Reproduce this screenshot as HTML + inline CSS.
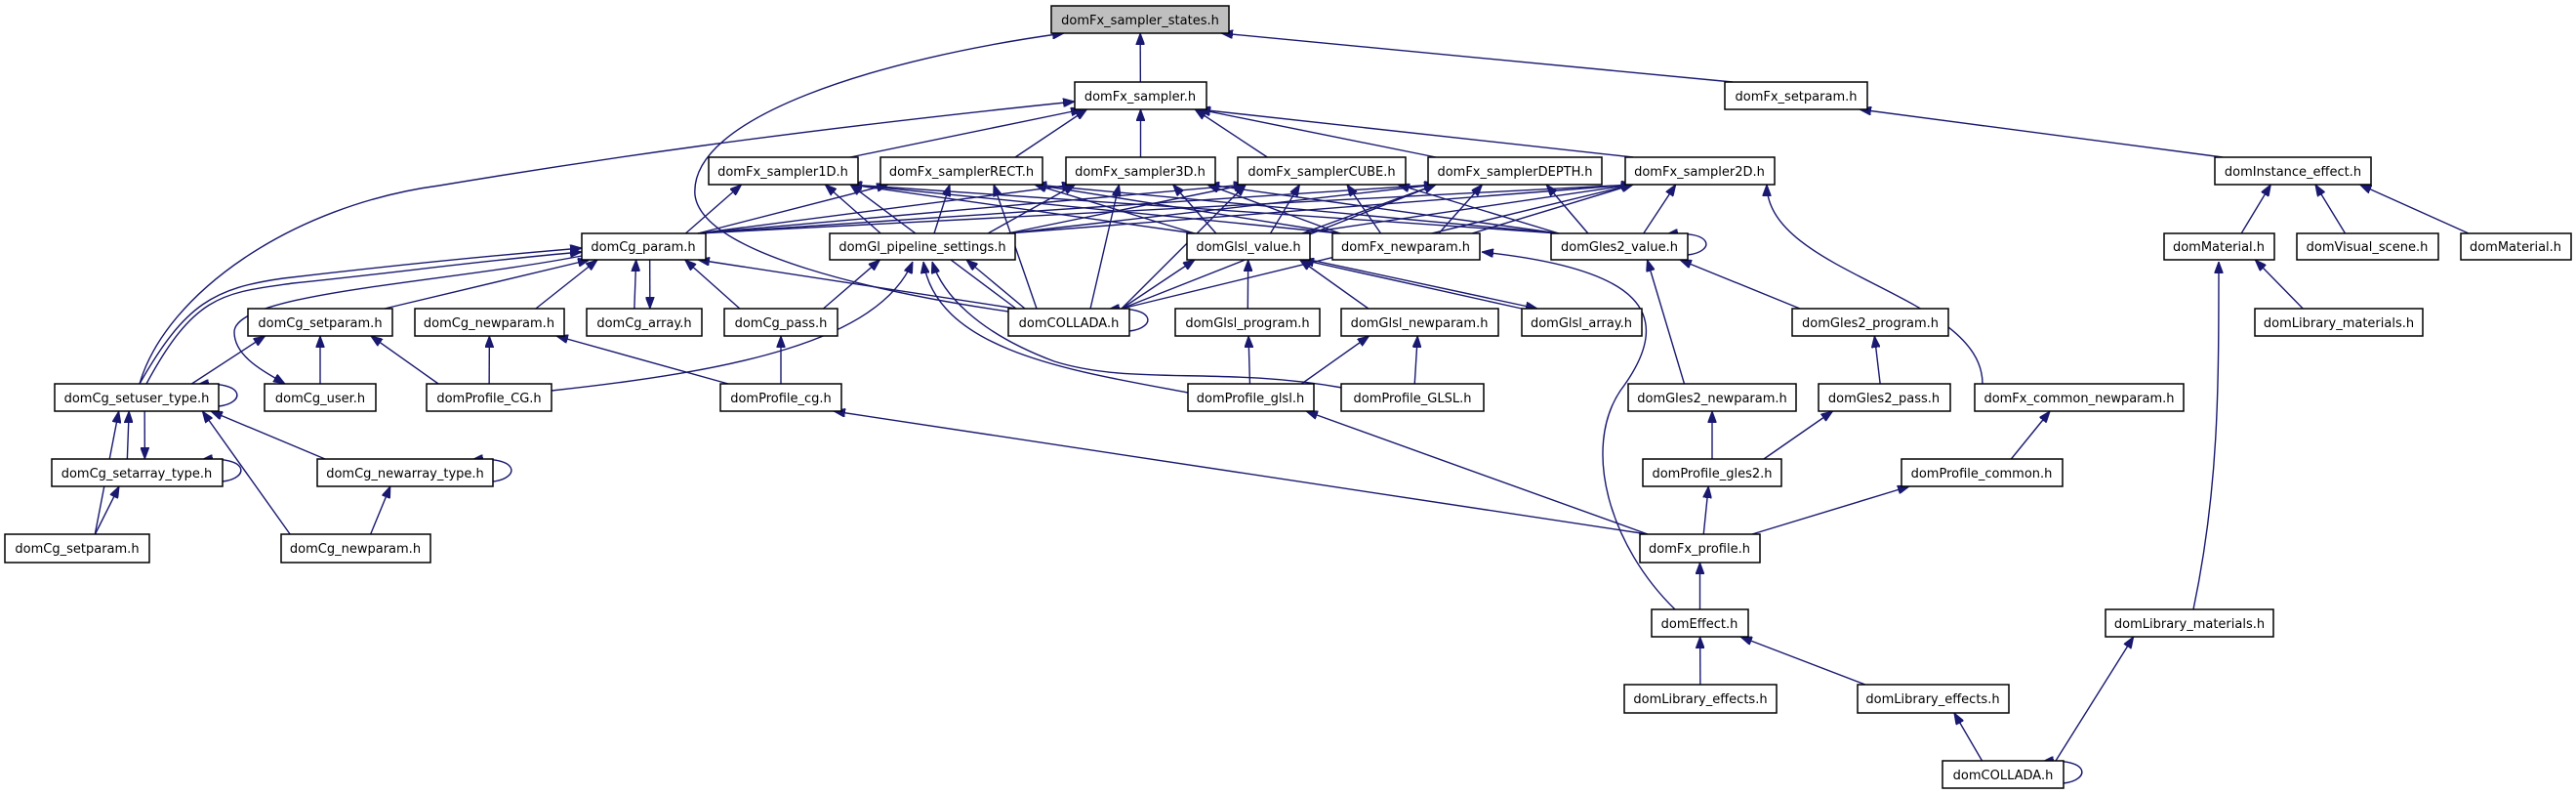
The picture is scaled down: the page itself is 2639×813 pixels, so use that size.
<!DOCTYPE html>
<html><head><meta charset="utf-8"><style>
html,body{margin:0;padding:0;background:#fff;}
svg{display:block}
text{font-family:"DejaVu Sans","Liberation Sans",sans-serif;font-size:13px;fill:#000}
.n{fill:#fff;stroke:#000;stroke-width:1.5}
.e{fill:none;stroke:#191970;stroke-width:1.4}
</style></head><body>
<svg id="g" width="2639" height="813" viewBox="0 0 2639 813" xmlns="http://www.w3.org/2000/svg">
<defs><marker id="a" viewBox="0 0 12 9" refX="12" refY="4.5" markerWidth="12" markerHeight="9" markerUnits="userSpaceOnUse" orient="auto"><path d="M0,0 L12,4.5 L0,9 z" fill="#191970" stroke="#191970"/></marker></defs>
<g id="edges"></g>
<g id="nodes">
<rect class="n" x="1077" y="6" width="182" height="28" style="fill:#bfbfbf"/><text x="1168" y="25" text-anchor="middle">domFx_sampler_states.h</text>
<rect class="n" x="1101" y="84" width="135" height="28"/><text x="1168" y="103" text-anchor="middle">domFx_sampler.h</text>
<rect class="n" x="1767" y="84" width="146" height="28"/><text x="1840" y="103" text-anchor="middle">domFx_setparam.h</text>
<rect class="n" x="726" y="161" width="153" height="28"/><text x="802" y="180" text-anchor="middle">domFx_sampler1D.h</text>
<rect class="n" x="902" y="161" width="166" height="28"/><text x="985" y="180" text-anchor="middle">domFx_samplerRECT.h</text>
<rect class="n" x="1092" y="161" width="153" height="28"/><text x="1168" y="180" text-anchor="middle">domFx_sampler3D.h</text>
<rect class="n" x="1268" y="161" width="172" height="28"/><text x="1354" y="180" text-anchor="middle">domFx_samplerCUBE.h</text>
<rect class="n" x="1463" y="161" width="178" height="28"/><text x="1552" y="180" text-anchor="middle">domFx_samplerDEPTH.h</text>
<rect class="n" x="1665" y="161" width="153" height="28"/><text x="1741" y="180" text-anchor="middle">domFx_sampler2D.h</text>
<rect class="n" x="2269" y="161" width="160" height="28"/><text x="2349" y="180" text-anchor="middle">domInstance_effect.h</text>
<rect class="n" x="596" y="239" width="127" height="27"/><text x="659" y="257" text-anchor="middle">domCg_param.h</text>
<rect class="n" x="850" y="239" width="190" height="27"/><text x="945" y="257" text-anchor="middle">domGl_pipeline_settings.h</text>
<rect class="n" x="1216" y="239" width="126" height="27"/><text x="1279" y="257" text-anchor="middle">domGlsl_value.h</text>
<rect class="n" x="1365" y="239" width="151" height="27"/><text x="1440" y="257" text-anchor="middle">domFx_newparam.h</text>
<rect class="n" x="1589" y="239" width="140" height="27"/><text x="1659" y="257" text-anchor="middle">domGles2_value.h</text>
<rect class="n" x="2217" y="239" width="113" height="27"/><text x="2273" y="257" text-anchor="middle">domMaterial.h</text>
<rect class="n" x="2353" y="239" width="145" height="27"/><text x="2425" y="257" text-anchor="middle">domVisual_scene.h</text>
<rect class="n" x="2521" y="239" width="113" height="27"/><text x="2577" y="257" text-anchor="middle">domMaterial.h</text>
<rect class="n" x="254" y="316" width="148" height="28"/><text x="328" y="335" text-anchor="middle">domCg_setparam.h</text>
<rect class="n" x="425" y="316" width="153" height="28"/><text x="501" y="335" text-anchor="middle">domCg_newparam.h</text>
<rect class="n" x="601" y="316" width="118" height="28"/><text x="660" y="335" text-anchor="middle">domCg_array.h</text>
<rect class="n" x="742" y="316" width="116" height="28"/><text x="800" y="335" text-anchor="middle">domCg_pass.h</text>
<rect class="n" x="1033" y="316" width="124" height="28"/><text x="1095" y="335" text-anchor="middle">domCOLLADA.h</text>
<rect class="n" x="1204" y="316" width="148" height="28"/><text x="1278" y="335" text-anchor="middle">domGlsl_program.h</text>
<rect class="n" x="1374" y="316" width="161" height="28"/><text x="1454" y="335" text-anchor="middle">domGlsl_newparam.h</text>
<rect class="n" x="1559" y="316" width="123" height="28"/><text x="1620" y="335" text-anchor="middle">domGlsl_array.h</text>
<rect class="n" x="1836" y="316" width="160" height="28"/><text x="1916" y="335" text-anchor="middle">domGles2_program.h</text>
<rect class="n" x="2310" y="316" width="172" height="28"/><text x="2396" y="335" text-anchor="middle">domLibrary_materials.h</text>
<rect class="n" x="56" y="393" width="168" height="28"/><text x="140" y="412" text-anchor="middle">domCg_setuser_type.h</text>
<rect class="n" x="271" y="393" width="114" height="28"/><text x="328" y="412" text-anchor="middle">domCg_user.h</text>
<rect class="n" x="437" y="393" width="128" height="28"/><text x="501" y="412" text-anchor="middle">domProfile_CG.h</text>
<rect class="n" x="738" y="393" width="124" height="28"/><text x="800" y="412" text-anchor="middle">domProfile_cg.h</text>
<rect class="n" x="1217" y="393" width="129" height="28"/><text x="1281" y="412" text-anchor="middle">domProfile_glsl.h</text>
<rect class="n" x="1374" y="393" width="146" height="28"/><text x="1447" y="412" text-anchor="middle">domProfile_GLSL.h</text>
<rect class="n" x="1668" y="393" width="172" height="28"/><text x="1754" y="412" text-anchor="middle">domGles2_newparam.h</text>
<rect class="n" x="1863" y="393" width="135" height="28"/><text x="1930" y="412" text-anchor="middle">domGles2_pass.h</text>
<rect class="n" x="2023" y="393" width="214" height="28"/><text x="2130" y="412" text-anchor="middle">domFx_common_newparam.h</text>
<rect class="n" x="53" y="470" width="175" height="28"/><text x="140" y="489" text-anchor="middle">domCg_setarray_type.h</text>
<rect class="n" x="325" y="470" width="180" height="28"/><text x="415" y="489" text-anchor="middle">domCg_newarray_type.h</text>
<rect class="n" x="1683" y="470" width="142" height="28"/><text x="1754" y="489" text-anchor="middle">domProfile_gles2.h</text>
<rect class="n" x="1948" y="470" width="165" height="28"/><text x="2030" y="489" text-anchor="middle">domProfile_common.h</text>
<rect class="n" x="5" y="547" width="148" height="29"/><text x="79" y="566" text-anchor="middle">domCg_setparam.h</text>
<rect class="n" x="288" y="547" width="153" height="29"/><text x="364" y="566" text-anchor="middle">domCg_newparam.h</text>
<rect class="n" x="1680" y="547" width="123" height="29"/><text x="1741" y="566" text-anchor="middle">domFx_profile.h</text>
<rect class="n" x="1692" y="624" width="99" height="28"/><text x="1741" y="643" text-anchor="middle">domEffect.h</text>
<rect class="n" x="2157" y="624" width="172" height="28"/><text x="2243" y="643" text-anchor="middle">domLibrary_materials.h</text>
<rect class="n" x="1664" y="701" width="156" height="29"/><text x="1742" y="720" text-anchor="middle">domLibrary_effects.h</text>
<rect class="n" x="1903" y="701" width="155" height="29"/><text x="1980" y="720" text-anchor="middle">domLibrary_effects.h</text>
<rect class="n" x="1990" y="779" width="124" height="28"/><text x="2052" y="798" text-anchor="middle">domCOLLADA.h</text>
</g>
</svg>
<script>
var N={S0:[1077,6,1259,34],SA:[1101,84,1236,112],SP:[1767,84,1913,112],
S1D:[726,161,879,189],RECT:[902,161,1068,189],S3D:[1092,161,1245,189],CUBE:[1268,161,1440,189],DEPTH:[1463,161,1641,189],S2D:[1665,161,1818,189],IE:[2269,161,2429,189],
CGP:[596,239,723,266],GLP:[850,239,1040,266],GLV:[1216,239,1342,266],FNP:[1365,239,1516,266],G2V:[1589,239,1729,266],MAT:[2217,239,2330,266],VS:[2353,239,2498,266],MAT2:[2521,239,2634,266],
CSP:[254,316,402,344],CNP:[425,316,578,344],CA:[601,316,719,344],CPS:[742,316,858,344],COL:[1033,316,1157,344],GLPR:[1204,316,1352,344],GLNP:[1374,316,1535,344],GLA:[1559,316,1682,344],G2P:[1836,316,1996,344],LM:[2310,316,2482,344],
CSU:[56,393,224,421],CU:[271,393,385,421],PCG:[437,393,565,421],Pcg:[738,393,862,421],PGL:[1217,393,1346,421],PGLSL:[1374,393,1520,421],G2NP:[1668,393,1840,421],G2PS:[1863,393,1998,421],FCNP:[2023,393,2237,421],
CSA:[53,470,228,498],CNA:[325,470,505,498],PG2:[1683,470,1825,498],PCOM:[1948,470,2113,498],
CSP2:[5,547,153,576],CNP2:[288,547,441,576],FXP:[1680,547,1803,576],EFF:[1692,624,1791,652],LM2:[2157,624,2329,652],LE1:[1664,701,1820,730],LE2:[1903,701,2058,730],COL2:[1990,779,2114,807]};
var G=document.getElementById('edges'),s='';
function cl(v,m){return Math.max(-m,Math.min(m,v));}
function P(d){s+='<path class="e" d="'+d+'" marker-end="url(#a)"/>';}
function E(c,p,o){o=o||{};var a=N[c],b=N[p];var ac=(a[0]+a[2])/2,bc=(b[0]+b[2])/2;
var sx=ac+cl((bc-ac)*0.3,(a[2]-a[0])/2-8)+(o.s||0),ex=bc+cl((ac-bc)*0.3,(b[2]-b[0])/2-8)+(o.e||0);
var sy,ey;if(a[1]>b[1]){sy=a[1];ey=b[3];}else{sy=a[3];ey=b[1];}
var dy=sy-ey;if(Math.abs(dy)<170){P('M'+sx+','+sy+' L'+ex+','+ey);}else{var d=dy*0.45;P('M'+sx+','+sy+' C'+sx+','+(sy-d)+' '+ex+','+(ey+d)+' '+ex+','+ey);}}
function L(id){var a=N[id];P('M'+a[2]+','+(a[3]-5)+' C'+(a[2]+28)+','+(a[3]-8)+' '+(a[2]+28)+','+(a[1]-4)+' '+(a[2]-22)+','+(a[1]+1));}
E('SA','S0');E('SP','S0');
P('M1040,320 C900,300 720,260 712,200 C705,120 900,60 1090,34');
P('M143,393 C170,300 300,210 450,190 C600,165 800,135 1101,104');
['S1D','RECT','S3D','CUBE','DEPTH','S2D'].forEach(function(p){E(p,'SA');['CGP','GLP','GLV','FNP','G2V','COL'].forEach(function(c){E(c,p);});});
E('IE','SP');E('MAT','IE');E('VS','IE');E('MAT2','IE');E('LM','MAT');
P('M2247,624 C2273,500 2273,400 2273,268');
E('CSP','CGP');E('CNP','CGP');E('CA','CGP',{s:-10,e:-8});E('CGP','CA',{s:6,e:6});E('CPS','CGP');E('COL','CGP');
P('M596,262 C450,290 240,300 240,340 C240,365 270,380 292,393');
P('M150,393 C200,300 230,300 300,290 C400,280 500,266 596,258');
P('M143,393 C190,310 220,295 290,285 C400,272 500,262 596,254');
E('CPS','GLP');E('COL','GLP');
P('M565,400 C750,380 900,350 935,268');
P('M1217,402 C1100,380 960,360 946,268');
P('M1375,397 C1250,375 1160,395 1080,370 C1000,340 965,300 955,268');
E('COL','GLV');E('GLPR','GLV');E('GLNP','GLV');E('GLA','GLV',{s:-8});E('GLV','GLA',{s:8,e:8});
L('COL');E('G2P','G2V');E('G2NP','G2V');L('G2V');
P('M1716,624 C1650,560 1620,460 1660,400 C1720,320 1680,275 1518,258');
E('FCNP','S2D');
E('CSU','CSP');E('CU','CSP');E('PCG','CSP');E('PCG','CNP');E('Pcg','CNP');E('Pcg','CPS');
E('PGL','GLPR');E('PGL','GLNP');E('PGLSL','GLNP');E('G2PS','G2P');L('CSU');
E('CSA','CSU',{s:-10,e:-8});E('CSU','CSA',{s:8,e:8});L('CSA');E('CNA','CSU');L('CNA');
E('CSP2','CSU');E('CSP2','CSA');E('CNP2','CSU');E('CNP2','CNA');
E('PG2','G2NP');E('PG2','G2PS');E('PCOM','FCNP');
E('FXP','Pcg');E('FXP','PGL');E('FXP','PG2');E('FXP','PCOM');
E('EFF','FXP');E('LE1','EFF');E('LE2','EFF');E('COL2','LE2');E('COL2','LM2');L('COL2');
G.innerHTML=s;
</script>
</body></html>
